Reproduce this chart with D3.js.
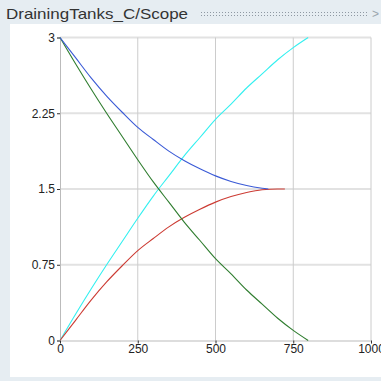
<!DOCTYPE html>
<html><head><meta charset="utf-8">
<script src="https://cdn.jsdelivr.net/npm/d3@7"></script>
<style>html,body{margin:0;padding:0;background:#e6edf2;}svg{display:block;}</style>
</head><body>
<script>
const title = "DrainingTanks_C/Scope";
const xTicks = [0, 250, 500, 750, 1000];
const yTicks = [0, 0.75, 1.5, 2.25, 3];
const yTickLabels = ["0", "0.75", "1.5", "2.25", "3"];

const tGreen = [0,50,100,150,200,250,300,350,400,450,500,550,600,650,700,750,798];
const green  = [3.00,2.74,2.49,2.25,2.02,1.79,1.57,1.37,1.17,0.99,0.81,0.66,0.50,0.36,0.22,0.10,0.00];
const cyan   = [0.00,0.26,0.51,0.75,0.98,1.21,1.43,1.63,1.83,2.01,2.19,2.34,2.50,2.64,2.78,2.90,3.00];
const tBlue  = [0,50,100,150,200,250,300,350,400,450,500,550,600,650,670];
const blue   = [3.00,2.80,2.60,2.42,2.26,2.11,1.99,1.875,1.78,1.70,1.63,1.575,1.535,1.508,1.50];
const tRed   = [0,50,100,150,200,250,300,350,400,450,500,550,600,650,700,723];
const red    = [0.00,0.20,0.40,0.58,0.74,0.89,1.01,1.125,1.22,1.30,1.37,1.425,1.465,1.492,1.50,1.50];

const W = 381, H = 381;
const svg = d3.select("body").append("svg").attr("width", W).attr("height", H);

// frame
svg.append("rect").attr("x",0).attr("y",0).attr("width",W).attr("height",H).attr("fill","#e6edf2");
svg.append("rect").attr("x",10).attr("y",24).attr("width",W-10).attr("height",353).attr("fill","#ffffff");

// title
svg.append("text").attr("x",6).attr("y",19).attr("font-family","Liberation Sans, Arial, sans-serif")
  .attr("font-size",15).attr("fill","#333").attr("textLength",182).attr("lengthAdjust","spacingAndGlyphs").text(title);
const defs = svg.append("defs");
const pat = defs.append("pattern").attr("id","dots").attr("width",3).attr("height",3).attr("patternUnits","userSpaceOnUse");
pat.append("rect").attr("x",0).attr("y",0).attr("width",1).attr("height",1).attr("fill","#8f99a3");
svg.append("rect").attr("x",199).attr("y",10).attr("width",168).attr("height",6).attr("fill","url(#dots)");
svg.append("text").attr("x",372).attr("y",18).attr("font-family","Liberation Sans, Arial, sans-serif")
  .attr("font-size",12).attr("fill","#9aa4ad").text(">");

const x = d3.scaleLinear().domain([0,1000]).range([60,371]);
const y = d3.scaleLinear().domain([0,3]).range([340.5,37.5]);

// grid
const g = svg.append("g");
g.selectAll("line.h").data(yTicks.filter(d=>d>0)).join("line")
  .attr("x1",x(0)).attr("x2",x(1000)).attr("y1",d=>y(d)).attr("y2",d=>y(d))
  .attr("stroke","#e2e2e2").attr("stroke-width",2);
g.selectAll("line.v").data(xTicks.filter(d=>d>0)).join("line")
  .attr("y1",y(0)).attr("y2",y(3)).attr("x1",d=>x(d)).attr("x2",d=>x(d))
  .attr("stroke","#cccccc").attr("stroke-width",1);

// axes
const yAxis = d3.axisLeft(y).tickValues(yTicks).tickFormat((d,i)=>yTickLabels[i]).tickSize(3).tickPadding(2);
const xAxis = d3.axisBottom(x).tickValues(xTicks).tickFormat(d3.format("d")).tickSize(3).tickPadding(1);
const ya = svg.append("g").attr("transform",`translate(${x(0)},0)`).call(yAxis);
const xa = svg.append("g").attr("transform",`translate(0,${y(0)})`).call(xAxis);
[ya,xa].forEach(a=>{
  a.select(".domain").attr("stroke","#bbbbbb");
  a.selectAll(".tick line").attr("stroke","#333");
  a.selectAll("text").attr("font-family","Liberation Sans, Arial, sans-serif").attr("font-size",12).attr("fill","#222");
});

const line = d3.line().x(d=>x(d[0])).y(d=>y(d[1])).curve(d3.curveMonotoneX);
const series = [
  {t:tGreen, v:cyan,  c:"#33f0f0"},
  {t:tRed,   v:red,   c:"#cc3b33"},
  {t:tGreen, v:green, c:"#2f7d2f"},
  {t:tBlue,  v:blue,  c:"#3a5ad6"}
];
series.forEach(s=>{
  svg.append("path").datum(s.t.map((t,i)=>[t,s.v[i]]))
    .attr("d",line).attr("fill","none").attr("stroke",s.c).attr("stroke-width",1.1);
});
</script>
</body></html>
